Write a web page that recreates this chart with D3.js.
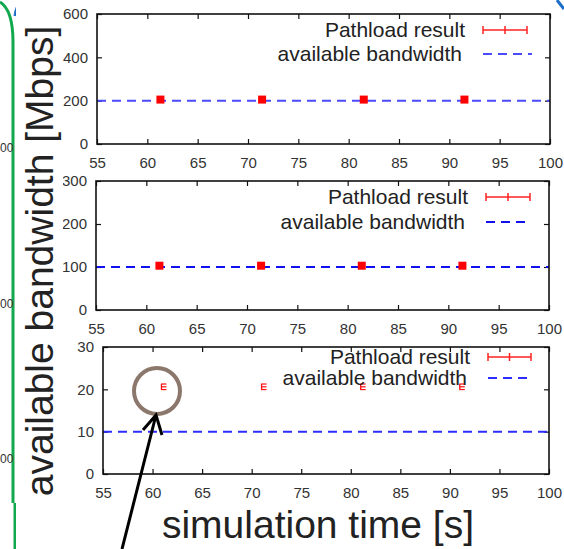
<!DOCTYPE html>
<html>
<head>
<meta charset="utf-8">
<script src="https://cdn.jsdelivr.net/npm/d3@7"></script>
<style>
  body { margin: 0; background: #fff; }
  svg { display: block; font-family: "Liberation Sans", Arial, sans-serif; }
</style>
</head>
<body>
<svg id="chart" width="564" height="549"></svg>
<script>
// values
const xTicks = [55, 60, 65, 70, 75, 80, 85, 90, 95, 100];

const times1 = [61.3, 71.4, 81.5, 91.5];
const rates1 = [205, 205, 205, 205];
const errs1 = [16, 16, 16, 16];
const avail1 = 200;
const yTicks1 = [0, 200, 400, 600];

const times2 = [61.3, 71.4, 81.4, 91.4];
const rates2 = [103, 103, 103, 103];
const errs2 = [8, 8, 8, 8];
const avail2 = 100;
const yTicks2 = [0, 100, 200, 300];

const times3 = [61.1, 71.2, 81.2, 91.2];
const rates3 = [20.6, 20.6, 20.6, 20.6];
const errs3 = [0.3, 0.3, 0.3, 0.3];
const avail3 = 10;
const yTicks3 = [0, 10, 20, 30];

const legendLabels = ["Pathload result", "available bandwidth"];

const svg = d3.select("#chart");

// stray bits of the surrounding slide
svg.append("path").attr("d", "M0,2 Q13,10 13,42 L13,503").attr("fill", "none").attr("stroke", "#12a84e").attr("stroke-width", 3);
svg.append("path").attr("d", "M15,503 L15,549").attr("fill", "none").attr("stroke", "#12a84e").attr("stroke-width", 3);
svg.append("path").attr("d", "M15,16 Q16,6 23,0").attr("fill", "none").attr("stroke", "#1f6fc8").attr("stroke-width", 3);
svg.append("path").attr("d", "M557,0 Q560,4 564,9").attr("fill", "none").attr("stroke", "#1f6fc8").attr("stroke-width", 3);
[147, 303, 458].forEach(y => {
  svg.append("text").attr("x", 0).attr("y", y + 5)
    .attr("font-size", 12).attr("fill", "#333").text("00");
});

const panels = [
  {times: times1, rates: rates1, errs: errs1, avail: avail1, yTicks: yTicks1,
   left: 97, right: 550, top: 14, bottom: 144, square: 8, dash: "#4a4aff",
   leg: [16, 40], legRight: [465, 462], sample: [483, 527, 532]},
  {times: times2, rates: rates2, errs: errs2, avail: avail2, yTicks: yTicks2,
   left: 96, right: 549, top: 181, bottom: 310, square: 8, dash: "#1010f0",
   leg: [16, 41], legRight: [468, 465], sample: [486, 530, 530]},
  {times: times3, rates: rates3, errs: errs3, avail: avail3, yTicks: yTicks3,
   left: 103, right: 549, top: 347, bottom: 474, square: 0, dash: "#2d2dff",
   leg: [10, 31], legRight: [470, 467], sample: [488, 531, 531]}
];

panels.forEach(p => {
  const x = d3.scaleLinear().domain([55, 100]).range([p.left, p.right]);
  const y = d3.scaleLinear().domain([0, d3.max(p.yTicks)]).range([p.bottom, p.top]);
  const g = svg.append("g");

  // axes, gnuplot style ticks pointing inward
  g.append("g").attr("transform", `translate(0,${p.bottom})`)
    .call(d3.axisBottom(x).tickValues(xTicks).tickSize(-5).tickSizeOuter(0).tickPadding(13));
  g.append("g").attr("transform", `translate(0,${p.top})`)
    .call(d3.axisTop(x).tickValues(xTicks).tickSize(-5).tickSizeOuter(0).tickFormat(""));
  g.append("g").attr("transform", `translate(${p.left},0)`)
    .call(d3.axisLeft(y).tickValues(p.yTicks).tickSize(-5).tickSizeOuter(0).tickPadding(9));
  g.append("g").attr("transform", `translate(${p.right},0)`)
    .call(d3.axisRight(y).tickValues(p.yTicks).tickSize(-5).tickSizeOuter(0).tickFormat(""));
  g.selectAll(".domain").remove();
  g.selectAll(".tick line").attr("stroke", "#111").attr("stroke-width", 1.2);
  g.selectAll(".tick text").attr("font-size", 15).attr("fill", "#333")
    .attr("font-family", "Liberation Sans, Arial, sans-serif");

  // available bandwidth
  g.append("line")
    .attr("x1", x(55)).attr("x2", x(100))
    .attr("y1", y(p.avail)).attr("y2", y(p.avail))
    .attr("stroke", p.dash).attr("stroke-width", 2).attr("stroke-dasharray", "9,6");

  // pathload results with error bars
  const pts = p.times.map((t, i) => ({t, v: p.rates[i], e: p.errs[i]}));
  const eb = g.selectAll("g.eb").data(pts).join("g").attr("class", "eb");
  if (p.square) {
    eb.append("rect")
      .attr("x", d => x(d.t) - p.square / 2)
      .attr("y", d => Math.min(y(d.v + d.e), y(d.v) - p.square / 2))
      .attr("width", p.square)
      .attr("height", d => Math.max(y(d.v - d.e) - y(d.v + d.e), p.square))
      .attr("fill", "#f00");
  } else {
    eb.append("line")
      .attr("x1", d => x(d.t) - 2).attr("x2", d => x(d.t) - 2)
      .attr("y1", d => y(d.v + d.e) - 1.5).attr("y2", d => y(d.v - d.e) + 1.5)
      .attr("stroke", "#f11").attr("stroke-width", 1.3);
    [1, 0, -1].forEach(k => {
      eb.append("line")
        .attr("x1", d => x(d.t) - 2.5).attr("x2", d => x(d.t) + 3)
        .attr("y1", d => y(d.v + k * d.e) - k * 1.5).attr("y2", d => y(d.v + k * d.e) - k * 1.5)
        .attr("stroke", "#f11").attr("stroke-width", 1.2);
    });
  }

  // frame
  g.append("rect")
    .attr("x", p.left).attr("y", p.top)
    .attr("width", p.right - p.left).attr("height", p.bottom - p.top)
    .attr("fill", "none").attr("stroke", "#111").attr("stroke-width", 1.6);

  // legend
  legendLabels.forEach((lab, i) => {
    g.append("text")
      .attr("x", p.legRight[i]).attr("y", p.top + p.leg[i] + 7)
      .attr("text-anchor", "end").attr("font-size", 21).attr("fill", "#222")
      .text(lab);
  });
  const ly0 = p.top + p.leg[0], ly1 = p.top + p.leg[1];
  const [s0, s1, s2] = p.sample;
  g.append("line").attr("x1", s0).attr("x2", s1).attr("y1", ly0).attr("y2", ly0)
    .attr("stroke", "#f22").attr("stroke-width", 1.5);
  [s0, (s0 + s1) / 2, s1].forEach(sx => {
    g.append("line").attr("x1", sx).attr("x2", sx).attr("y1", ly0 - 4).attr("y2", ly0 + 4)
      .attr("stroke", "#f22").attr("stroke-width", 1.5);
  });
  g.append("line").attr("x1", s0).attr("x2", s2).attr("y1", ly1).attr("y2", ly1)
    .attr("stroke", p.dash).attr("stroke-width", 2).attr("stroke-dasharray", "9,6");
});

// axis titles
svg.append("rect").attr("x", 16).attr("y", 0).attr("width", 47).attr("height", 549).attr("fill", "#fff");
svg.append("text")
  .attr("transform", "translate(53,261) rotate(-90)")
  .attr("text-anchor", "middle").attr("font-size", 39).attr("fill", "#222")
  .text("available bandwidth [Mbps]");
svg.append("text")
  .attr("x", 318).attr("y", 538)
  .attr("text-anchor", "middle").attr("font-size", 39).attr("fill", "#222")
  .text("simulation time [s]");

// annotation: circle and arrow
svg.append("circle").attr("cx", 157).attr("cy", 391).attr("r", 23)
  .attr("fill", "none").attr("stroke", "#8b776c").attr("stroke-width", 4);
svg.append("path").attr("d", "M122,549 L156,415 M143,430 L156,415 L162,435")
  .attr("fill", "none").attr("stroke", "#000").attr("stroke-width", 3);
</script>
</body>
</html>
